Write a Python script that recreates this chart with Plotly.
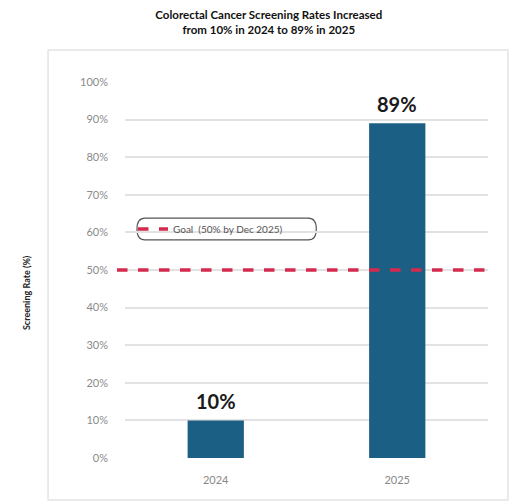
import plotly.graph_objects as go

# Screening data
years = ["2024", "2025"]
rates = [10, 89]
goal_rate = 50
goal_label = "Goal  (50% by Dec 2025)"
y_ticks = [0, 10, 20, 30, 40, 50, 60, 70, 80, 90, 100]
y_tick_text = [f"{v}%" for v in y_ticks]

bar_color = "#1c5f84"
goal_color = "#d42a4e"

fig = go.Figure()

fig.add_trace(go.Bar(
    x=years,
    y=rates,
    width=0.31,
    marker=dict(color=bar_color, line=dict(width=0)),
    showlegend=False,
    hoverinfo="skip",
))

# Value labels above each bar (category index positions)
for i, v in enumerate(rates):
    fig.add_annotation(
        x=i, y=v, xref="x", yref="y", text=f"{v}%",
        yanchor="bottom", yshift=5, showarrow=False,
        font=dict(family="Lato", size=20, color="#1a1a1a", weight="bold"),
    )

# Goal reference line, listed in the legend
fig.add_shape(
    type="line", xref="paper", yref="y",
    x0=-0.022, x1=1.005, y0=goal_rate, y1=goal_rate,
    line=dict(color=goal_color, width=3.5, dash="dash"),
    showlegend=True, name=goal_label, layer="above",
)

# Light frame around the chart body
fig.add_shape(
    type="rect", xref="paper", yref="paper",
    x0=-0.212, x1=1.055, y0=-0.112, y1=1.085,
    line=dict(color="#e4e4e4", width=1.5), layer="below",
)

# Rounded outline around the legend
fig.add_shape(
    type="path", xref="paper", yref="paper",
    path=("M 0.055 0.638 L 0.505 0.638 Q 0.527 0.638 0.527 0.609 "
          "Q 0.527 0.580 0.505 0.580 L 0.055 0.580 "
          "Q 0.033 0.580 0.033 0.609 Q 0.033 0.638 0.055 0.638 Z"),
    line=dict(color="#555555", width=1.2), fillcolor="white", layer="below",
)

fig.add_annotation(
    text="Screening Rate (%)", textangle=-90,
    xref="paper", yref="paper", x=-0.292, y=0.44,
    showarrow=False, font=dict(family="Lato", size=9, color="#222222", weight="bold"),
)

fig.update_layout(
    width=512, height=504,
    margin=dict(l=125, r=24, t=82, b=46),
    paper_bgcolor="white", plot_bgcolor="white",
    title=dict(
        text="Colorectal Cancer Screening Rates Increased<br>from 10% in 2024 to 89% in 2025",
        x=0.525, xanchor="center", y=0.962, yanchor="top",
        font=dict(family="Lato", size=11.5, color="#111111", weight="bold"),
    ),
    legend=dict(
        x=0.022, y=0.609, xanchor="left", yanchor="middle",
        bgcolor="rgba(0,0,0,0)", borderwidth=0,
        font=dict(family="Lato", size=10, color="#555555"),
        itemwidth=30, tracegroupgap=0,
    ),
    xaxis=dict(
        type="category", range=[-0.5, 1.5],
        showgrid=False, showline=False, zeroline=False, ticks="",
        tickfont=dict(family="Lato", size=11, color="#888888"),
        ticklabelstandoff=14,
    ),
    yaxis=dict(
        range=[0, 100], tickvals=y_ticks, ticktext=y_tick_text,
        showgrid=True, gridcolor="#e2e2e2", gridwidth=1.5,
        zeroline=False, showline=False, ticks="",
        tickfont=dict(family="Lato", size=11, color="#8a8a8a"),
        ticklabelstandoff=16,
    ),
)

fig.write_html("out.html")
